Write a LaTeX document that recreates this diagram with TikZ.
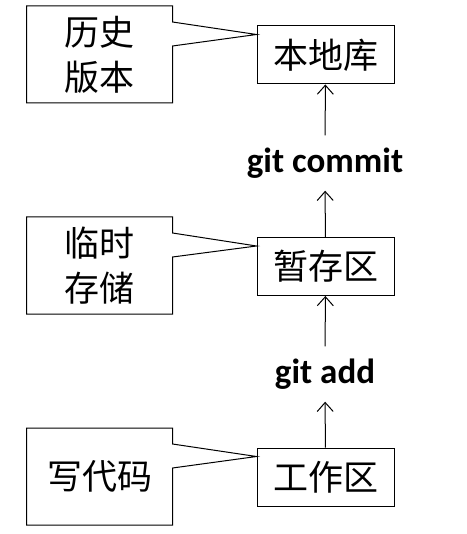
\documentclass[tikz,border=0pt]{standalone}
\usepackage{fontspec}
\setmainfont{Carlito}
\newfontfamily\cjk{Noto Sans CJK SC}
\usetikzlibrary{arrows.meta}

\begin{document}
\begin{tikzpicture}[x=1pt,y=-1pt,line width=1pt,draw=black]
    \tikzstyle{every node}=[font=\cjk\fontsize{35}{45}\selectfont]
    \tikzstyle{stage box}=[draw,minimum width=137pt,minimum height=58pt,inner sep=0pt]
    \tikzstyle{note}=[minimum width=145pt,minimum height=96pt,inner sep=0pt,align=center]
    \tikzstyle{cmd}=[font=\bfseries\fontsize{35}{40}\selectfont,inner xsep=2pt,inner ysep=12pt]
    \tikzstyle{up}=[-{Straight Barb[length=9pt,width=16pt]}]

    \useasboundingbox (0,0) rectangle (466,534);

    % Draw the three areas
    \foreach \name/\txt/\y in {lib/本地库/55, stage/暂存区/266.5, work/工作区/477}
        \node[stage box] (\name) at (325.5,\y) {\txt};

    % Draw the notes on the left
    \node[note] (hist) at (99.5,54.5) {历史\\版本};
    \node[note] (temp) at (99.5,265.5) {临时\\存储};
    \node[note] (code) at (99.5,476.5) {写代码};

    % Outline every note with its tail to the area
    \foreach \note/\area in {hist/lib, temp/stage, code/work}
        \draw (\note.north west) -- (\note.north east) -- ([yshift=-16pt]\note.north east)
            -- ([yshift=-9pt]\area.north west) -- ([yshift=-40pt]\note.north east)
            -- (\note.south east) -- (\note.south west) -- cycle;

    % Annotate the commands
    \node[cmd] (commit) at (325,163) {git commit};
    \node[cmd] (add) at (325,374) {git add};

    % Connect the areas through the commands
    \draw[up] (work) -- (add);
    \draw[up] (add) -- (stage);
    \draw[up] (stage) -- (commit);
    \draw[up] (commit) -- (lib);

\end{tikzpicture}
\end{document}
